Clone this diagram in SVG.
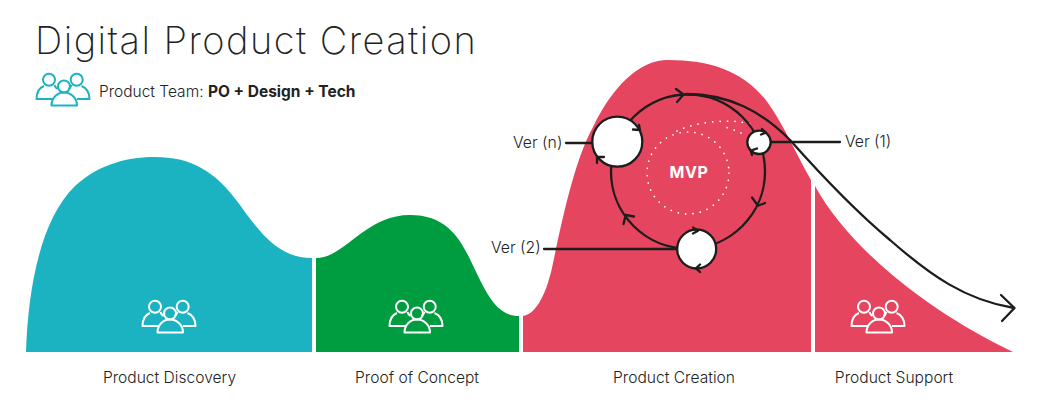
<svg xmlns="http://www.w3.org/2000/svg" width="1041" height="413" viewBox="0 0 1041 413">
<style>
text{font-family:"Inter","Liberation Sans",sans-serif;fill:#222;}
.lb{font-size:15.600px;text-anchor:middle;font-weight:300;}
.vr{font-size:15.800px;font-weight:300;}
.ln{fill:none;stroke:#1d1d1b;stroke-width:2.3;stroke-linecap:round;stroke-linejoin:round;}
.nd{fill:#fff;stroke:#1d1d1b;stroke-width:2.3;}
.ic{fill:none;stroke-width:2;stroke-linejoin:round;}
.dot{fill:none;stroke:#fff;stroke-width:1.7;stroke-linecap:round;stroke-dasharray:0.1 7.3;}
</style>
<defs>
<g id="team">
<circle cx="13" cy="6.700" r="6"/>
<circle cx="40.700" cy="6.700" r="6"/>
<path d="M8,13 C3,15 0.500,20 0.500,26 H16.500 M45.500,13 C50.500,15 53.500,20 53.500,26 H41 M18.500,12 C19,14 20,15 21.500,16 M35.500,12 C35,14 33.500,15 32.500,16"/>
<circle cx="28" cy="13.500" r="6"/>
<path d="M15.500,32.500 C15.500,25 21,19.500 28,19.500 C35,19.500 41,25 41,32.500 Z"/>
</g>
</defs>
<g id="title">
<text x="35" y="54" style="font-size:38px;font-weight:200;fill:#222;letter-spacing:1.450px">Digital Product Creation</text>
<use href="#team" x="36" y="73" class="ic" stroke="#1bb3c1"/>
<text x="99" y="97" style="font-size:15.500px;font-weight:300">Product Team: <tspan font-weight="700">PO + Design + Tech</tspan></text>
</g>
<g id="product-discovery">
<path fill="#1bb3c1" d="M26,352 C28,290 40,220 75,186 C100,163 130,157 155,157 C190,157 215,170 240,205 C262,236 280,258 312,258 V352 Z"/>
<use href="#team" x="142" y="300" class="ic" stroke="#fff"/>
<text x="169.500" y="383" class="lb">Product Discovery</text>
</g>
<g id="proof-of-concept">
<path fill="#009c40" d="M316,352 V258 C345,258 365,215 410,215 C455,215 465,250 480,280 C492,305 503,316 519,316 V352 Z"/>
<use href="#team" x="389" y="300" class="ic" stroke="#fff"/>
<text x="417" y="383" class="lb">Proof of Concept</text>
</g>
<g id="product-creation">
<path fill="#e5455f" d="M523,352 V316 C535,314 545,298 552,268 C563,215 575,160 593,127 C612,88 638,60 668,60 C712,60 745,72 768,103 C785,127 798,158 811,180 V352 Z"/>
<text x="674" y="383" class="lb">Product Creation</text>
</g>
<g id="product-support">
<path fill="#e5455f" d="M815,352 V186 C850,250 930,312 1013,352 Z"/>
<use href="#team" x="851" y="300" class="ic" stroke="#fff"/>
<text x="894" y="383" class="lb">Product Support</text>
</g>
<g id="mvp">
<circle class="dot" cx="688" cy="173" r="41"/>
<path class="dot" d="M677,131 C695,122 730,118 750,124 M741,133 C735,130 728,128 722,126"/>
<text x="689" y="178" style="font-size:16px;font-weight:700;fill:#fff;text-anchor:middle;letter-spacing:0.600px">MVP</text>
</g>
<g id="connectors">
<circle class="ln" cx="688" cy="171.500" r="77"/>
<path class="ln" d="M686,94 C730,94 762,112 790,140 C830,185 860,215 890,240 C930,275 965,300 1014,308"/>
<path class="ln" d="M1001,295 L1014.500,308 L1002,321"/>
<path class="ln" d="M566,143 H592 M544,249 H677 M770,142 H840"/>
<path class="ln" d="M676,89 L683.500,94.500 L677,102"/>
<path class="ln" d="M752,197.500 L758,205.700 L765,203"/>
<path class="ln" d="M634,216.500 L625.700,215 L623.500,224"/>
</g>
<g id="ver-n">
<circle class="nd" cx="617.300" cy="141.700" r="25"/>
<path class="ln" d="M633,129.500 L640,130 L639,125 M604,157 L597,157 L597,163"/>
<text x="513" y="148" class="vr">Ver (n)</text>
</g>
<g id="ver-1">
<circle class="nd" cx="759" cy="142.300" r="11.700"/>
<path class="ln" d="M762,129 L766,132.700 L761,134.500 M757,148.500 L750.700,150.700 L752,155"/>
<text x="845" y="147" class="vr">Ver (1)</text>
</g>
<g id="ver-2">
<circle class="nd" cx="696.700" cy="249" r="19.500"/>
<path class="ln" d="M693,227.500 L698,230.700 L693,233.500 M700,264.500 L696,268.300 L700,272"/>
<text x="491" y="253" class="vr">Ver (2)</text>
</g>
</svg>
